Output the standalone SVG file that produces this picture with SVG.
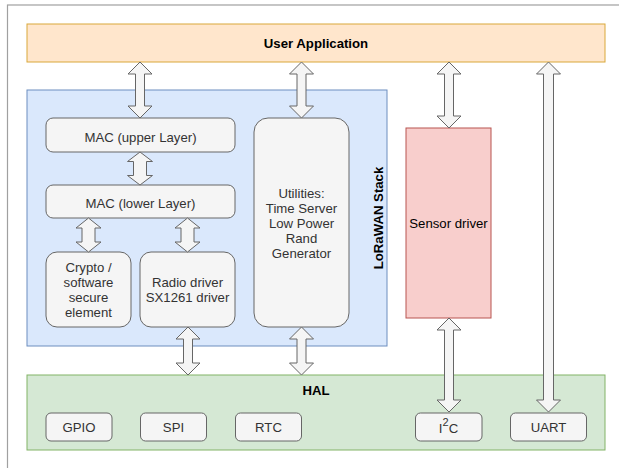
<svg xmlns="http://www.w3.org/2000/svg" width="619" height="468" viewBox="0 0 619 468">
  <style>
    text { font-family: "Liberation Sans", Arial, Helvetica, sans-serif; font-size: 13.2px; text-anchor: middle; dominant-baseline: central; }
    .title { font-weight: bold; fill: #000000; }
    .inner rect { fill: #f5f5f5; stroke: #666666; stroke-width: 1; }
    .inner text { fill: #333333; }
    .arrow { fill: #f5f5f5; stroke: #666666; stroke-width: 1; stroke-linejoin: miter; }
  </style>

  <rect width="619" height="468" fill="#ffffff"/>
  <!-- page frame -->
  <rect x="7.5" y="5" width="700" height="600" fill="none" stroke="#a0a0a0" stroke-width="1.2"/>

  <g id="user-application">
    <rect x="27" y="24" width="578" height="38" fill="#ffe6cc" stroke="#d9a83a" stroke-width="1"/>
    <text class="title" x="316" y="43.5">User Application</text>
  </g>

  <g id="lorawan-stack">
    <rect x="27" y="90" width="360" height="256" fill="#dae8fc" stroke="#6c8ebf" stroke-width="1"/>
    <text class="title" transform="translate(378.5 218) rotate(-90)">LoRaWAN Stack</text>
  </g>

  <g id="mac-upper" class="inner">
    <rect x="46" y="118" width="189" height="34" rx="7"/>
    <text x="140.5" y="137">MAC (upper Layer)</text>
  </g>

  <g id="mac-lower" class="inner">
    <rect x="46" y="185" width="189" height="33" rx="7"/>
    <text x="140.5" y="203">MAC (lower Layer)</text>
  </g>

  <g id="crypto" class="inner">
    <rect x="46" y="252" width="85" height="75" rx="11"/>
    <text x="88.5" y="267.5">Crypto /</text>
    <text x="88.5" y="282.5">software</text>
    <text x="88.5" y="297.5">secure</text>
    <text x="88.5" y="312.5">element</text>
  </g>

  <g id="radio-driver" class="inner">
    <rect x="140" y="252" width="95" height="75" rx="11"/>
    <text x="187.5" y="282.5">Radio driver</text>
    <text x="187.5" y="297.5">SX1261 driver</text>
  </g>

  <g id="utilities" class="inner">
    <rect x="254" y="118" width="95" height="209" rx="14"/>
    <text x="301.5" y="193.5">Utilities:</text>
    <text x="301.5" y="208.5">Time Server</text>
    <text x="301.5" y="223.5">Low Power</text>
    <text x="301.5" y="238.5">Rand</text>
    <text x="301.5" y="253.5">Generator</text>
  </g>

  <g id="sensor-driver">
    <rect x="406" y="128" width="85" height="190" fill="#f8cecc" stroke="#b85450" stroke-width="1"/>
    <text x="448.5" y="223" fill="#000000">Sensor driver</text>
  </g>

  <g id="hal">
    <rect x="27" y="375" width="578" height="75" fill="#d5e8d4" stroke="#82b366" stroke-width="1"/>
    <text class="title" x="316" y="390">HAL</text>
  </g>

  <g id="gpio" class="inner">
    <rect x="46" y="413" width="66" height="28" rx="5"/>
    <text x="79" y="427">GPIO</text>
  </g>

  <g id="spi" class="inner">
    <rect x="140.5" y="413" width="66" height="28" rx="5"/>
    <text x="173.5" y="427">SPI</text>
  </g>

  <g id="rtc" class="inner">
    <rect x="235.5" y="413" width="66" height="28" rx="5"/>
    <text x="268.5" y="427">RTC</text>
  </g>

  <g id="i2c" class="inner">
    <rect x="415.5" y="413" width="66.5" height="28" rx="5"/>
    <text x="448.5" y="428">I<tspan dy="-6" font-size="11">2</tspan><tspan dy="6">C</tspan></text>
  </g>

  <g id="uart" class="inner">
    <rect x="510.5" y="413" width="76" height="28" rx="5"/>
    <text x="548.5" y="427">UART</text>
  </g>

  <!-- double-headed block arrows -->
  <g id="connectors">
    <!-- User Application <-> MAC upper -->
    <path class="arrow" d="M140,62 L152,74 L144.5,74 L144.5,106 L152,106 L140,118 L128,106 L135.5,106 L135.5,74 L128,74 Z"/>
    <!-- User Application <-> Utilities -->
    <path class="arrow" d="M301.5,62 L313.5,74 L306,74 L306,106 L313.5,106 L301.5,118 L289.5,106 L297,106 L297,74 L289.5,74 Z"/>
    <!-- User Application <-> Sensor driver -->
    <path class="arrow" d="M449,62 L461,74 L453.5,74 L453.5,116 L461,116 L449,128 L437,116 L444.5,116 L444.5,74 L437,74 Z"/>
    <!-- User Application <-> UART -->
    <path class="arrow" d="M548.5,62 L560.5,74 L553.5,74 L553.5,400 L560.5,400 L548.5,412 L536.5,400 L543.5,400 L543.5,74 L536.5,74 Z"/>
    <!-- Sensor driver <-> I2C -->
    <path class="arrow" d="M449,318 L461,330 L453.5,330 L453.5,400 L461,400 L449,412 L437,400 L444.5,400 L444.5,330 L437,330 Z"/>
    <!-- Radio driver <-> HAL -->
    <path class="arrow" d="M188,327 L200,339 L192.5,339 L192.5,363 L200,363 L188,375 L176,363 L183.5,363 L183.5,339 L176,339 Z"/>
    <!-- Utilities <-> HAL -->
    <path class="arrow" d="M301.5,327 L313.5,339 L306,339 L306,363 L313.5,363 L301.5,375 L289.5,363 L297,363 L297,339 L289.5,339 Z"/>
    <!-- MAC upper <-> MAC lower -->
    <path class="arrow" d="M140,152 L152.5,161.5 L146.5,161.5 L146.5,175.5 L152.5,175.5 L140,185 L127.5,175.5 L133.5,175.5 L133.5,161.5 L127.5,161.5 Z"/>
    <!-- MAC lower <-> Crypto -->
    <path class="arrow" d="M88.5,218 L101,228 L95,228 L95,242 L101,242 L88.5,252 L76,242 L82,242 L82,228 L76,228 Z"/>
    <!-- MAC lower <-> Radio driver -->
    <path class="arrow" d="M187.5,218 L200,228 L194,228 L194,242 L200,242 L187.5,252 L175,242 L181,242 L181,228 L175,228 Z"/>
  </g>
</svg>
